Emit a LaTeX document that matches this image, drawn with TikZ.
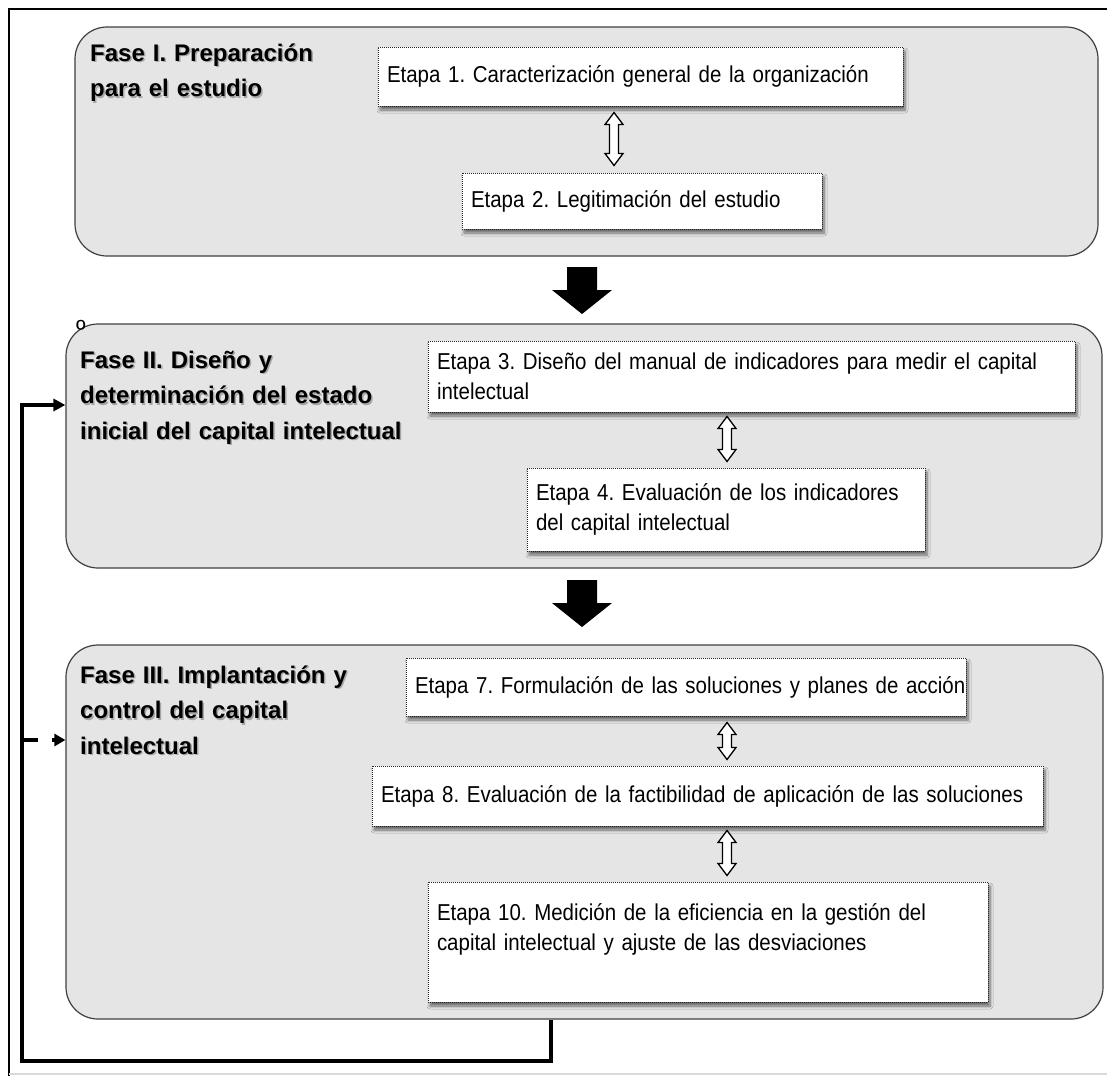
\documentclass[tikz,border=0pt]{standalone}
\usepackage{fontspec}
\setmainfont{Liberation Sans}
\newfontfamily\etfont[FakeStretch=0.89]{Liberation Sans}
\usetikzlibrary{arrows.meta,shadows,shadows.blur,calc}
\frenchspacing
\begin{document}
\begin{tikzpicture}[x=1pt,y=-1pt,
  phase/.style={draw=black!75, line width=1.2pt, fill=black!10, rounded corners=32pt, inner sep=0pt},
  etapa/.style={draw=black!85, fill=white, line width=1pt, dash pattern=on 1pt off 1pt,
    inner xsep=9pt, inner ysep=0pt, align=left, font=\etfont\fontsize{23}{30}\selectfont,
    blur shadow={shadow xshift=2pt, shadow yshift=-4pt, shadow blur radius=3pt, shadow blur steps=6, shadow opacity=55}},
  fase/.style={font=\bfseries\fontsize{24}{35.5}\selectfont, anchor=base west, inner sep=0pt, align=left, text width=420pt},
  faseshadow/.style={fase, text=black!35},
  hollow/.style={draw=black, line width=1.3pt, fill=white, line join=miter},
  fb/.style={line width=4pt},
  blk/.style={fill=black}
]
\useasboundingbox[fill=white] (0,0) rectangle (1107,1076);

% outer frame
\draw[line width=2.5pt] (9,1076) -- (9,9) -- (1107,9);
\draw[black!15, line width=1.5pt] (9,1074) -- (1107,1074);

% phase boxes
\node[phase, minimum width=1023pt, minimum height=229pt] (p1) at (586.5,141.5) {};
\node[phase, minimum width=1036pt, minimum height=244pt] (p2) at (584,446) {};
\node[phase, minimum width=1037pt, minimum height=374pt] (p3) at (584.5,832) {};

% phase labels (with soft shadow)
\node[faseshadow] (f1s) at (91.5,62.5) {Fase I. Preparación\\para el estudio};
\node[fase] (f1) at (90,61) {Fase I. Preparación\\para el estudio};
\node[faseshadow] (f2s) at (81.5,369.5) {Fase II. Diseño y\\determinación del estado\\inicial del capital intelectual};
\node[fase] (f2) at (80,368) {Fase II. Diseño y\\determinación del estado\\inicial del capital intelectual};
\node[faseshadow] (f3s) at (81.5,684.5) {Fase III. Implantación y\\control del capital\\intelectual};
\node[fase] (f3) at (80,683) {Fase III. Implantación y\\control del capital\\intelectual};
\node[anchor=base west, inner sep=0pt, font=\fontsize{26}{26}\selectfont] (ord) at (76,338) {º};

% etapas
\node[etapa, minimum width=525pt, minimum height=59pt, text width=507pt] (e1) at (640.5,76.5)
  {\mbox{Etapa 1. Caracterización general de la organización}};
\node[etapa, minimum width=360pt, minimum height=56pt, text width=342pt] (e2) at (642,201)
  {\mbox{Etapa 2. Legitimación del estudio}};
\node[etapa, minimum width=647pt, minimum height=71pt, text width=629pt] (e3) at (751.5,376.5)
  {\mbox{Etapa 3. Diseño del manual de indicadores para medir el capital}\\intelectual};
\node[etapa, minimum width=398pt, minimum height=83pt, text width=380pt] (e4) at (726,509.5)
  {\mbox{Etapa 4. Evaluación de los indicadores}\\del capital intelectual};
\node[etapa, minimum width=560pt, minimum height=58pt, text width=542pt] (e7) at (686,687)
  {\mbox{Etapa 7. Formulación de las soluciones y planes de acción}};
\node[etapa, minimum width=671pt, minimum height=60pt, text width=653pt] (e8) at (707.5,796)
  {\mbox{Etapa 8. Evaluación de la factibilidad de aplicación de las soluciones}};
\node[etapa, minimum width=560pt, minimum height=120pt, text width=542pt] (e10) at (708,942)
  {\mbox{Etapa 10. Medición de la eficiencia en la gestión del}\\\mbox{capital intelectual y ajuste de las desviaciones}\\\rule{0pt}{24pt}};

% hollow double arrows
\coordinate (xa) at (614,0);
\coordinate (xb) at (727,0);
\path (e1.south -| xa) ++(0,6) coordinate (a1t);
\path (e2.north -| xa) ++(0,-7) coordinate (a1b);
\path (e3.south -| xb) ++(0,4) coordinate (a2t);
\path (e4.north -| xb) ++(0,-6) coordinate (a2b);
\path (e7.south -| xb) ++(0,6) coordinate (a3t);
\path (e8.north -| xb) ++(0,-6) coordinate (a3b);
\path (e8.south -| xb) ++(0,4) coordinate (a4t);
\path (e10.north -| xb) ++(0,-6) coordinate (a4b);
\foreach \t/\b in {a1t/a1b, a2t/a2b, a3t/a3b, a4t/a4b}{
  \draw[hollow] (\t) -- ++(9,12) -- ++(-4.5,0) -- ($(\b)+(4.5,-12)$) -- ++(4.5,0) -- (\b)
     -- ++(-9,-12) -- ++(4.5,0) -- ($(\t)+(-4.5,12)$) -- ++(-4.5,0) -- cycle;
}

% black block arrows
\coordinate (ba1) at (582,267);
\coordinate (ba2) at (582,580);
\fill[blk] (ba1) ++(-15,0) -- ++(30,0) -- ++(0,23) -- ++(15,0) -- ++(-30,24) -- ++(-30,-24) -- ++(15,0) -- cycle;
\fill[blk] (ba2) ++(-15,0) -- ++(30,0) -- ++(0,23) -- ++(15,0) -- ++(-30,24) -- ++(-30,-24) -- ++(15,0) -- cycle;

% feedback loop
\coordinate (fbx) at (551,0);
\coordinate (fbb) at (551,1061);
\coordinate (fbl) at (22,1061);
\coordinate (fby) at (0,405);
\coordinate (bry) at (0,740);
\draw[fb, -{Triangle[length=12pt,width=12pt]}] (p3.south -| fbx) -- (fbb) -- (fbl) -- (fbl |- fby) -- (p2.west |- fby);
\draw[line width=3.5pt, dash pattern=on 16pt off 14pt, -{Triangle[length=11pt,width=12pt]}] (fbl |- bry) -- (p3.west |- bry);
\end{tikzpicture}
\end{document}
